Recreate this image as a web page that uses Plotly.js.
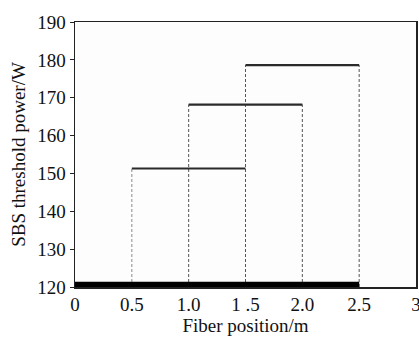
<!DOCTYPE html>
<html><head><meta charset="utf-8">
<script src="https://cdn.plot.ly/plotly-3.0.1.min.js"></script>
<style>html,body{margin:0;padding:0;background:#fff;}#c{width:419px;height:339px;}</style>
</head><body><div id="c"></div>
<script>
// Segment start/end positions (m) and SBS threshold levels (W)
const segStart = [0.5, 1.0, 1.5];
const segEnd = [1.5, 2.0, 2.5];
const segLevel = [151.3, 168.2, 178.6];
const baseLevel = 120;
const fiberX = [0, 2.5];
const fiberY = [120.6, 120.6];
const xTicks = [0, 0.5, 1.0, 1.5, 2.0, 2.5, 3];
const xTickText = ['0', '0.5', '1.0', '1 .5', '2.0', '2.5', '3'];
const yTicks = [120, 130, 140, 150, 160, 170, 180, 190];

const traces = [];
const dashColors = ['#8a8a8a', '#555', '#555'];
segStart.forEach((s, i) => {
  const e = segEnd[i], v = segLevel[i];
  traces.push({x: [s, s], y: [baseLevel, v], mode: 'lines', line: {color: dashColors[i], width: 1, dash: '3px,2px'}, hoverinfo: 'skip'});
  traces.push({x: [e, e], y: [baseLevel, v], mode: 'lines', line: {color: dashColors[i], width: 1, dash: '3px,2px'}, hoverinfo: 'skip'});
});
segStart.forEach((s, i) => {
  traces.push({x: [s, segEnd[i]], y: [segLevel[i], segLevel[i]], mode: 'lines', line: {color: '#2a2a2a', width: 2.2}, hoverinfo: 'skip'});
});
traces.push({x: fiberX, y: fiberY, mode: 'lines', line: {color: '#000', width: 6}, hoverinfo: 'skip', cliponaxis: false});

const serif = 'Liberation Serif, Times New Roman, serif';
const layout = {
  width: 419, height: 339,
  margin: {l: 75, r: 3, t: 22, b: 52},
  paper_bgcolor: '#fff', plot_bgcolor: '#fdfdfd',
  showlegend: false,
  font: {family: serif, color: '#111'},
  xaxis: {
    range: [0, 3], tickvals: xTicks, ticktext: xTickText,
    showgrid: false, zeroline: false, showline: true, linecolor: '#222', linewidth: 1.5,
    mirror: true, ticks: '', ticklabeloverflow: 'allow', tickfont: {size: 19, family: serif},
    title: {text: 'Fiber position/m', font: {size: 19, family: serif}, standoff: 4}
  },
  yaxis: {
    range: [120, 190], tickvals: yTicks,
    showgrid: false, zeroline: false, showline: true, linecolor: '#222', linewidth: 1.5,
    mirror: true, ticks: 'outside', ticklen: 4, tickcolor: '#222',
    tickfont: {size: 19, family: serif},
    title: {text: 'SBS threshold power/W', font: {size: 19, family: serif}, standoff: 6}
  }
};
Plotly.newPlot('c', traces, layout, {staticPlot: true, displayModeBar: false});
</script>
</body></html>
